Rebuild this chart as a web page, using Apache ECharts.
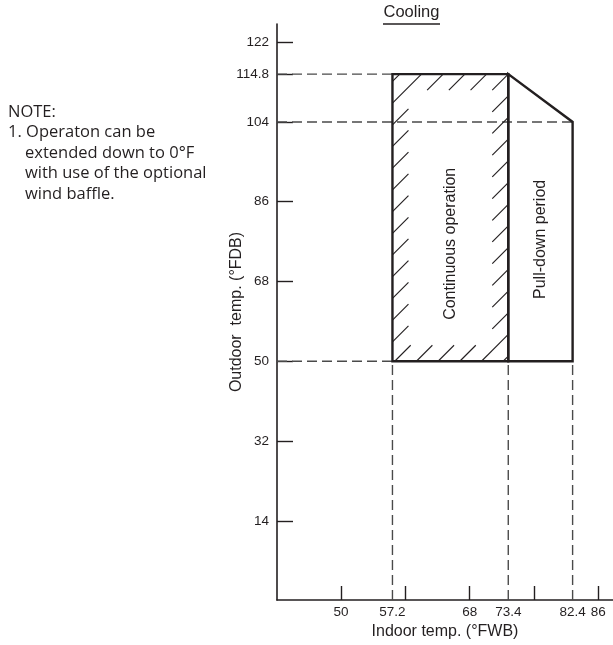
<!DOCTYPE html>
<html><head><meta charset="utf-8">
<script src="https://cdn.jsdelivr.net/npm/echarts@6/dist/echarts.min.js"></script>
<style>html,body{margin:0;padding:0;background:#fff}#c{width:613px;height:645px}</style>
</head><body><div id="c"></div>
<script>
// ---- data ----
const xTicks = [50, 59, 68, 77, 86];
const xLabels = [50, 57.2, 68, 73.4, 82.4, 86];
const yTicks = [14, 32, 50, 68, 86, 104, 114.8, 122];
const yLabels = [14, 32, 50, 68, 86, 104, 114.8, 122];
const continuousX = [57.2, 57.2, 73.4, 73.4];
const continuousY = [50, 114.8, 114.8, 50];
const pullDownX = [73.4, 73.4, 82.4, 82.4];
const pullDownY = [50, 114.8, 104, 50];
const hGuideY = [114.8, 104, 50];
const hGuideEndX = [57.2, 82.4, 57.2];
const vGuideX = [57.2, 73.4, 82.4];
const vGuideEndY = [50, 50, 50];
const regionNames = ['Continuous operation', 'Pull-down period'];
const regionNameX = [65.3, 77.9];
const regionNameY = [76.5, 77.5];
const noteLines = ['NOTE:', '1. Operaton can be', 'extended down to 0\u00b0F', 'with use of the optional', 'wind baffle.'];
const noteIndent = [0, 0, 1, 1, 1];
const X_MIN = 41.05, X_MAX = 88.05, Y_MIN = -3.87, Y_MAX = 126.1;

const INK = '#231f20';
const FONT = 'Liberation Sans, Arial, sans-serif';

const chart = echarts.init(document.getElementById('c'), null, {renderer: 'canvas'});

const series = [];
// dashed guide lines
hGuideY.forEach((y, i) => {
  series.push({type: 'line', data: [[X_MIN, y], [hGuideEndX[i], y]], symbol: 'none', silent: true,
    lineStyle: {color: '#4a4a4a', width: 1.4, type: [10, 5]}, z: 2});
});
vGuideX.forEach((x, i) => {
  series.push({type: 'line', data: [[x, Y_MIN], [x, vGuideEndY[i]]], symbol: 'none', silent: true,
    lineStyle: {color: '#4a4a4a', width: 1.4, type: [10, 5]}, z: 2});
});
// hatch inside the border of the continuous-operation region
series.push({
  type: 'custom', silent: true, z: 3,
  data: [[continuousX[0], continuousY[0]]],
  renderItem: function (params, api) {
    const p0 = api.coord([Math.min.apply(null, continuousX), Math.max.apply(null, continuousY)]);
    const p1 = api.coord([Math.max.apply(null, continuousX), Math.min.apply(null, continuousY)]);
    const x0 = p0[0], y0 = p0[1], x1 = p1[0], y1 = p1[1];
    const band = 16, step = 21.7, phase = 7.3;
    const ix0 = x0 + band, ix1 = x1 - band, iy0 = y0 + band, iy1 = y1 - band;
    const children = [];
    for (let c = x0 + y0 + phase; c <= x1 + y1; c += step) {
      const a = Math.max(x0, c - y1), b = Math.min(x1, c - y0);
      if (a >= b) continue;
      const p = Math.max(ix0, c - iy1), q = Math.min(ix1, c - iy0);
      const segs = [];
      if (p < q) {
        if (p > a) segs.push([a, Math.min(p, b)]);
        if (q < b) segs.push([Math.max(q, a), b]);
      } else segs.push([a, b]);
      segs.forEach(function (s) {
        children.push({type: 'line', shape: {x1: s[0], y1: c - s[0], x2: s[1], y2: c - s[1]},
          style: {stroke: INK, lineWidth: 1.1}});
      });
    }
    return {type: 'group', children: children};
  }
});
// region outlines
series.push({
  type: 'custom', silent: true, z: 4,
  data: [[continuousX[0], continuousY[0]], [pullDownX[0], pullDownY[0]]],
  renderItem: function (params, api) {
    const xs = params.dataIndex === 0 ? continuousX : pullDownX;
    const ys = params.dataIndex === 0 ? continuousY : pullDownY;
    const pts = xs.map(function (x, i) { return api.coord([x, ys[i]]); });
    return {type: 'polygon', shape: {points: pts}, style: {fill: 'none', stroke: INK, lineWidth: 2.4, lineJoin: 'miter'}};
  }
});
// region names
series.push({
  type: 'custom', silent: true, z: 5,
  data: regionNames.map(function (n, i) { return [regionNameX[i], regionNameY[i], i]; }),
  renderItem: function (params, api) {
    const pt = api.coord([api.value(0), api.value(1)]);
    return {type: 'text', x: pt[0], y: pt[1], rotation: Math.PI / 2,
      style: {text: regionNames[params.dataIndex], fill: INK, fontSize: 16, fontFamily: FONT,
        align: 'center', verticalAlign: 'middle'}};
  }
});

const graphic = [
  {type: 'text', x: 411.5, y: 12.5,
   style: {text: 'Cooling', fill: INK, fontSize: 16.5, fontFamily: FONT, align: 'center', verticalAlign: 'middle'}},
  {type: 'line', shape: {x1: 383, y1: 24, x2: 440, y2: 24}, style: {stroke: INK, lineWidth: 1.6}}
];
noteLines.forEach(function (t, i) {
  graphic.push({type: 'text', x: noteIndent[i] ? 25 : 8, y: 112 + i * 20.5,
    style: {text: t, fill: INK, fontSize: 16.5, fontFamily: 'Open Sans, Noto Sans, sans-serif', align: 'left', verticalAlign: 'middle'}});
});

chart.setOption({
  animation: false,
  backgroundColor: '#fff',
  grid: {left: 277, right: 0, top: 24, bottom: 43.3, containLabel: false},
  xAxis: {
    type: 'value', min: X_MIN, max: X_MAX,
    name: 'Indoor temp. (\u00b0FWB)', nameLocation: 'middle', nameGap: 24, nameMoveOverlap: false,
    nameTextStyle: {fontSize: 16, color: INK, fontFamily: FONT},
    axisLine: {onZero: false, lineStyle: {color: INK, width: 1.6}},
    axisTick: {inside: true, length: 14, customValues: xTicks, lineStyle: {color: INK, width: 1.4}},
    axisLabel: {customValues: xLabels, margin: 5, fontSize: 13.5, color: INK, fontFamily: FONT},
    splitLine: {show: false}
  },
  yAxis: {
    type: 'value', min: Y_MIN, max: Y_MAX,
    name: 'Outdoor  temp. (\u00b0FDB)', nameLocation: 'middle', nameGap: 32, nameMoveOverlap: false,
    nameTextStyle: {fontSize: 16, color: INK, fontFamily: FONT},
    axisLine: {onZero: false, lineStyle: {color: INK, width: 1.6}},
    axisTick: {inside: true, length: 16, customValues: yTicks, lineStyle: {color: INK, width: 1.4}},
    axisLabel: {customValues: yLabels, margin: 8, fontSize: 13.5, color: INK, fontFamily: FONT},
    splitLine: {show: false}
  },
  graphic: graphic,
  series: series
});
</script></body></html>
